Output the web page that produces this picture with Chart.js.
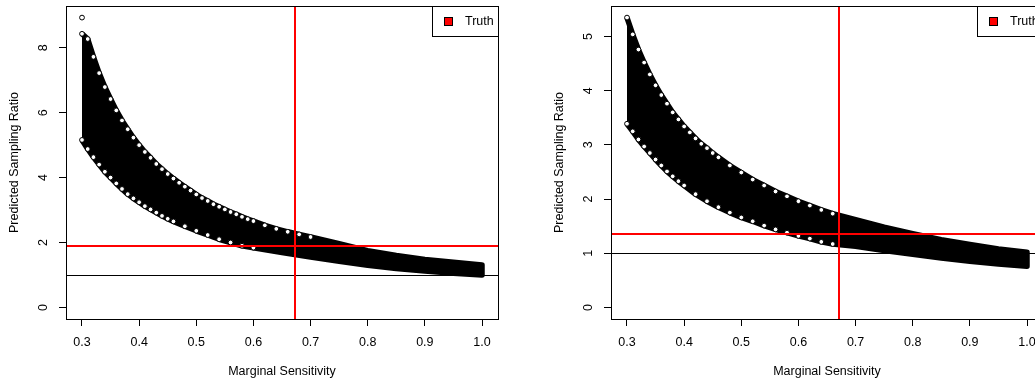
<!DOCTYPE html>
<html>
<head>
<meta charset="utf-8">
<script src="https://cdn.jsdelivr.net/npm/chart.js@4.4.1/dist/chart.umd.min.js"></script>
<style>
  html, body { margin: 0; padding: 0; background: #fff; }
  body { width: 1035px; height: 385px; overflow: hidden; position: relative; }
  .panel { position: absolute; top: 0; width: 545px; height: 385px; }
  #left { left: 0; }
  #right { left: 545px; }
</style>
</head>
<body>
<div class="panel" id="left"><canvas id="leftChart" width="545" height="385"></canvas></div>
<div class="panel" id="right"><canvas id="rightChart" width="545" height="385"></canvas></div>
<script>
// axis ticks
const xLimits = [0.3, 1.0];
const xTicks = [0.3, 0.4, 0.5, 0.6, 0.7, 0.8, 0.9, 1.0];
const xTickLabels = ['0.3', '0.4', '0.5', '0.6', '0.7', '0.8', '0.9', '1.0'];
const leftYTicks = [0, 2, 4, 6, 8];
const leftYTickLabels = ['0', '2', '4', '6', '8'];
const rightYTicks = [0, 1, 2, 3, 4, 5];
const rightYTickLabels = ['0', '1', '2', '3', '4', '5'];

// left panel: upper and lower edge of the point cloud
const leftUpperX = [0.30, 0.31, 0.32, 0.33, 0.34, 0.35, 0.36, 0.37, 0.38, 0.39, 0.40,
  0.41, 0.42, 0.43, 0.44, 0.45, 0.46, 0.47, 0.48, 0.49, 0.50, 0.51, 0.52, 0.53, 0.54,
  0.55, 0.56, 0.57, 0.58, 0.59, 0.60, 0.62, 0.64, 0.66, 0.68, 0.70, 0.75, 0.80, 0.85,
  0.90, 0.95, 1.00];
const leftUpper = [8.43, 8.27, 7.72, 7.22, 6.79, 6.42, 6.07, 5.76, 5.49, 5.23, 5.00,
  4.79, 4.61, 4.42, 4.26, 4.11, 3.97, 3.84, 3.72, 3.60, 3.48, 3.37, 3.28, 3.18, 3.10,
  3.02, 2.94, 2.87, 2.79, 2.72, 2.66, 2.53, 2.42, 2.33, 2.25, 2.17, 1.96, 1.75, 1.60,
  1.48, 1.39, 1.31];
const leftLowerX = [0.30, 0.31, 0.32, 0.33, 0.34, 0.35, 0.36, 0.37, 0.38, 0.39, 0.40,
  0.41, 0.42, 0.43, 0.44, 0.45, 0.46, 0.48, 0.50, 0.52, 0.54, 0.56, 0.58, 0.60, 0.65,
  0.70, 0.75, 0.80, 0.85, 0.90, 0.95, 1.00];
const leftLower = [5.16, 4.88, 4.63, 4.40, 4.18, 4.00, 3.82, 3.65, 3.49, 3.36, 3.24,
  3.12, 3.02, 2.92, 2.82, 2.73, 2.65, 2.50, 2.36, 2.23, 2.10, 2.00, 1.90, 1.84, 1.69,
  1.55, 1.42, 1.30, 1.20, 1.12, 1.05, 1.00];
const leftOutlierX = [0.30];
const leftOutlierY = [8.93];
const leftTruthH = 1.895;
const leftTruthV = 0.673;

// right panel
const rightUpperX = [0.30, 0.31, 0.32, 0.33, 0.34, 0.35, 0.36, 0.37, 0.38, 0.39, 0.40,
  0.41, 0.42, 0.43, 0.44, 0.45, 0.46, 0.48, 0.50, 0.52, 0.54, 0.56, 0.58, 0.60, 0.62,
  0.64, 0.66, 0.70, 0.75, 0.80, 0.85, 0.90, 0.95, 1.00];
const rightUpper = [5.35, 5.04, 4.76, 4.52, 4.30, 4.10, 3.92, 3.76, 3.60, 3.47, 3.34,
  3.23, 3.12, 3.02, 2.94, 2.85, 2.77, 2.62, 2.49, 2.36, 2.25, 2.14, 2.05, 1.96, 1.88,
  1.80, 1.73, 1.62, 1.48, 1.36, 1.25, 1.16, 1.08, 1.02];
const rightLowerX = [0.30, 0.31, 0.32, 0.33, 0.34, 0.35, 0.36, 0.37, 0.38, 0.39, 0.40,
  0.42, 0.44, 0.46, 0.48, 0.50, 0.52, 0.54, 0.56, 0.58, 0.60, 0.62, 0.64, 0.66, 0.70,
  0.75, 0.80, 0.85, 0.90, 0.95, 1.00];
const rightLower = [3.39, 3.25, 3.10, 2.97, 2.85, 2.73, 2.62, 2.51, 2.42, 2.33, 2.25,
  2.09, 1.96, 1.85, 1.75, 1.66, 1.59, 1.51, 1.44, 1.38, 1.32, 1.27, 1.21, 1.17, 1.13,
  1.05, 0.98, 0.91, 0.85, 0.80, 0.76];
const rightTruthH = 1.355;
const rightTruthV = 0.671;

const refLine = 1;
const legendLabels = ['Truth'];
const legendColors = ['#ff0000'];

const FONT = { family: '"Liberation Sans", Arial, Helvetica, sans-serif', size: 12.5 };
Chart.defaults.font.family = FONT.family;
Chart.defaults.color = '#000';

function pts(xs, ys) {
  return xs.map((x, i) => ({ x: x, y: ys[i] }));
}

// abline() style reference lines, clipped to the plot region
const abLines = {
  id: 'abLines',
  afterDatasetsDraw(chart, args, opts) {
    const { ctx, chartArea: a, scales: { x, y } } = chart;
    ctx.save();
    ctx.beginPath();
    ctx.rect(a.left, a.top, a.right - a.left, a.bottom - a.top);
    ctx.clip();
    (opts.lines || []).forEach(l => {
      ctx.strokeStyle = l.color;
      ctx.lineWidth = l.width;
      ctx.beginPath();
      if (l.h !== undefined) {
        const py = Math.round(y.getPixelForValue(l.h)) + (l.width % 2 ? 0.5 : 0);
        ctx.moveTo(a.left, py);
        ctx.lineTo(a.right, py);
      } else {
        const px = Math.round(x.getPixelForValue(l.v)) + (l.width % 2 ? 0.5 : 0);
        ctx.moveTo(px, a.top);
        ctx.lineTo(px, a.bottom);
      }
      ctx.stroke();
    });
    ctx.restore();
  }
};

// box() around the plot region + topright legend
const boxLegend = {
  id: 'boxLegend',
  afterDraw(chart) {
    const { ctx, chartArea: a } = chart;
    ctx.save();
    ctx.strokeStyle = '#000';
    ctx.lineWidth = 1;
    const l = Math.round(a.left) + 0.5, t = Math.round(a.top) + 0.5;
    const r = Math.round(a.right) + 0.5, b = Math.round(a.bottom) + 0.5;
    ctx.strokeRect(l, t, r - l, b - t);

    ctx.font = FONT.size + 'px ' + FONT.family;
    const tw = ctx.measureText(legendLabels[0]).width;
    const w = Math.round(tw + 37), h = 30;
    const bl = r - w;
    ctx.fillStyle = '#fff';
    ctx.fillRect(bl, t, w, h);
    ctx.strokeRect(bl, t, w, h);
    const cy = t + h / 2;
    ctx.fillStyle = legendColors[0];
    ctx.fillRect(bl + 12, cy - 4, 8, 8);
    ctx.strokeRect(bl + 12, cy - 4, 8, 8);
    ctx.fillStyle = '#000';
    ctx.textBaseline = 'middle';
    ctx.textAlign = 'left';
    ctx.fillText(legendLabels[0], bl + 32.5, cy + 0.5);
    ctx.restore();
  }
};

// hide edge circles where the readings are sparse (band edge reads as solid there)
function edgeRadius(c) {
  const d = c.dataset.data;
  const i = c.dataIndex;
  const prev = i > 0 ? d[i].x - d[i - 1].x : 1;
  const next = i < d.length - 1 ? d[i + 1].x - d[i].x : 1;
  return Math.min(prev, next) <= 0.021 ? 2.4 : 0;
}

function buildPanel(id, p) {
  const xPad = (xLimits[1] - xLimits[0]) * 0.04;
  const yPad = p.yLimit * 0.04;
  const band = pts(p.upperX, p.upper).concat(pts(p.lowerX, p.lower).reverse());
  const circle = {
    showLine: false,
    pointRadius: edgeRadius,
    pointBorderWidth: 1,
    pointBorderColor: '#000',
    pointBackgroundColor: '#fff',
    order: 1
  };
  return new Chart(document.getElementById(id), {
    type: 'line',
    data: {
      datasets: [
        {
          data: band,
          borderColor: '#000',
          backgroundColor: '#000',
          borderWidth: 5.5,
          borderJoinStyle: 'round',
          fill: 'shape',
          pointRadius: 0,
          tension: 0,
          order: 3
        },
        Object.assign({ data: pts(p.upperX, p.upper) }, circle),
        Object.assign({ data: pts(p.lowerX, p.lower) }, circle),
        Object.assign({ data: pts(p.outX, p.outY) }, circle, { pointRadius: 2.4 })
      ]
    },
    options: {
      responsive: false,
      animation: false,
      events: [],
      layout: { padding: { top: 6, right: 47, bottom: 0, left: 0 } },
      plugins: {
        legend: { display: false },
        tooltip: { enabled: false },
        abLines: {
          lines: [
            { h: refLine, color: '#000', width: 1 },
            { h: p.truthH, color: '#ff0000', width: 2 },
            { v: p.truthV, color: '#ff0000', width: 2 }
          ]
        }
      },
      scales: {
        x: {
          type: 'linear',
          min: xLimits[0] - xPad,
          max: xLimits[1] + xPad,
          afterBuildTicks: s => { s.ticks = xTicks.map(v => ({ value: v })); },
          afterFit: s => { s.height = 66; s.paddingLeft = 0; s.paddingRight = 0; },
          ticks: {
            callback: (v, i) => xTickLabels[i],
            font: FONT, color: '#000', padding: 9,
            maxRotation: 0, autoSkip: false
          },
          grid: { drawOnChartArea: false, tickLength: 7, color: '#000' },
          border: { display: false },
          title: {
            display: true, text: 'Marginal Sensitivity',
            font: FONT, color: '#000', padding: { top: 0, bottom: 6 }
          }
        },
        y: {
          type: 'linear',
          min: -yPad,
          max: p.yLimit + yPad,
          afterBuildTicks: s => { s.ticks = p.yTicks.map(v => ({ value: v })); },
          afterFit: s => { s.width = 66; s.paddingTop = 0; s.paddingBottom = 0; },
          ticks: {
            callback: (v, i) => p.yTickLabels[i],
            font: FONT, color: '#000', padding: 12,
            minRotation: 90, maxRotation: 90, crossAlign: 'center', autoSkip: false
          },
          grid: { drawOnChartArea: false, tickLength: 7, color: '#000' },
          border: { display: false },
          title: {
            display: true, text: 'Predicted Sampling Ratio',
            font: FONT, color: '#000', padding: { top: 7, bottom: 0 }
          }
        }
      }
    },
    plugins: [abLines, boxLegend]
  });
}

buildPanel('leftChart', {
  upperX: leftUpperX, upper: leftUpper,
  lowerX: leftLowerX, lower: leftLower,
  outX: leftOutlierX, outY: leftOutlierY,
  yLimit: 8.93, yTicks: leftYTicks, yTickLabels: leftYTickLabels,
  truthH: leftTruthH, truthV: leftTruthV
});

buildPanel('rightChart', {
  upperX: rightUpperX, upper: rightUpper,
  lowerX: rightLowerX, lower: rightLower,
  outX: [], outY: [],
  yLimit: 5.35, yTicks: rightYTicks, yTickLabels: rightYTickLabels,
  truthH: rightTruthH, truthV: rightTruthV
});
</script>
</body>
</html>
